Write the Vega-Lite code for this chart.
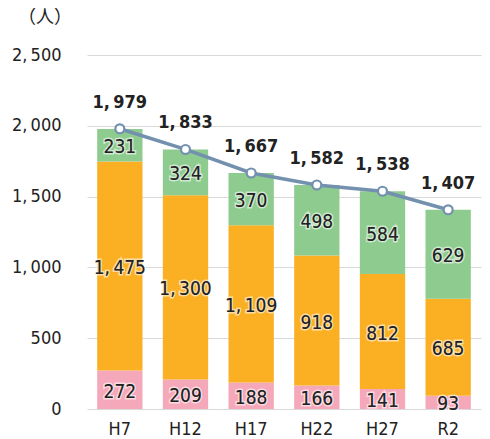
{
  "$schema": "https://vega.github.io/schema/vega-lite/v6.json",
  "autosize": {"type": "none"},
  "width": 394,
  "height": 354,
  "padding": {"left": 87, "top": 55, "right": 9, "bottom": 30},
  "background": "white",
  "config": {
    "view": {"stroke": null},
    "font": "'DejaVu Sans Condensed', 'Noto Sans', sans-serif"
  },
  "datasets": {
    "seg": [
      {"year": "H7", "cat": "young", "ord": 1, "value": 272},
      {"year": "H7", "cat": "work", "ord": 2, "value": 1475},
      {"year": "H7", "cat": "old", "ord": 3, "value": 231},
      {"year": "H12", "cat": "young", "ord": 1, "value": 209},
      {"year": "H12", "cat": "work", "ord": 2, "value": 1300},
      {"year": "H12", "cat": "old", "ord": 3, "value": 324},
      {"year": "H17", "cat": "young", "ord": 1, "value": 188},
      {"year": "H17", "cat": "work", "ord": 2, "value": 1109},
      {"year": "H17", "cat": "old", "ord": 3, "value": 370},
      {"year": "H22", "cat": "young", "ord": 1, "value": 166},
      {"year": "H22", "cat": "work", "ord": 2, "value": 918},
      {"year": "H22", "cat": "old", "ord": 3, "value": 498},
      {"year": "H27", "cat": "young", "ord": 1, "value": 141},
      {"year": "H27", "cat": "work", "ord": 2, "value": 812},
      {"year": "H27", "cat": "old", "ord": 3, "value": 584},
      {"year": "R2", "cat": "young", "ord": 1, "value": 93},
      {"year": "R2", "cat": "work", "ord": 2, "value": 685},
      {"year": "R2", "cat": "old", "ord": 3, "value": 629}
    ],
    "tot": [
      {"year": "H7", "total": 1979},
      {"year": "H12", "total": 1833},
      {"year": "H17", "total": 1667},
      {"year": "H22", "total": 1582},
      {"year": "H27", "total": 1538},
      {"year": "R2", "total": 1407}
    ]
  },
  "layer": [
    {
      "data": {"name": "seg"},
      "transform": [
        {"stack": "value", "groupby": ["year"], "sort": [{"field": "ord"}], "as": ["v0", "v1"]},
        {"calculate": "(datum.v0 + datum.v1) / 2", "as": "mid"},
        {"calculate": "replace(format(datum.value, ','), ',', ',\u2009')", "as": "lab"}
      ],
      "layer": [
        {
          "mark": {"type": "bar"},
          "encoding": {
            "x": {"field": "year", "type": "nominal", "sort": ["H7", "H12", "H17", "H22", "H27", "R2"],
                  "scale": {"paddingInner": 0.31, "paddingOuter": 0.155},
                  "axis": {"title": null, "labelAngle": 0, "ticks": false, "domain": false, "labelFontSize": 18, "labelColor": "#222", "labelPadding": 11}},
            "y": {"field": "v0", "type": "quantitative", "scale": {"domain": [0, 2500], "nice": false},
                  "axis": {"title": null, "values": [0, 500, 1000, 1500, 2000, 2500], "ticks": false, "domain": false,
                           "gridColor": "#d9d9d9", "labelFontSize": 18, "labelColor": "#222", "labelPadding": 26,
                           "labelExpr": "replace(format(datum.value, ','), ',', ',\u2009')"}},
            "y2": {"field": "v1"},
            "color": {"field": "cat", "type": "nominal", "legend": null,
                      "scale": {"domain": ["young", "work", "old"], "range": ["#F5A8B9", "#FAB022", "#8DCB8E"]}}
          }
        },
        {
          "mark": {"type": "text", "fontSize": 19, "color": "#222", "stroke": "white", "strokeWidth": 3, "strokeOpacity": 0.6, "baseline": "middle", "dy": 2},
          "encoding": {
            "x": {"field": "year", "type": "nominal", "sort": ["H7", "H12", "H17", "H22", "H27", "R2"]},
            "y": {"field": "mid", "type": "quantitative"},
            "text": {"field": "lab"}
          }
        },
        {
          "mark": {"type": "text", "fontSize": 19, "color": "#222", "baseline": "middle", "dy": 2},
          "encoding": {
            "x": {"field": "year", "type": "nominal", "sort": ["H7", "H12", "H17", "H22", "H27", "R2"]},
            "y": {"field": "mid", "type": "quantitative"},
            "text": {"field": "lab"}
          }
        }
      ]
    },
    {
      "data": {"name": "tot"},
      "transform": [
        {"calculate": "replace(format(datum.total, ','), ',', ',\u2009')", "as": "lab"}
      ],
      "encoding": {
        "x": {"field": "year", "type": "nominal", "sort": ["H7", "H12", "H17", "H22", "H27", "R2"]},
        "y": {"field": "total", "type": "quantitative"}
      },
      "layer": [
        {"mark": {"type": "line", "color": "#7391AF", "strokeWidth": 3.5}},
        {"mark": {"type": "point", "filled": true, "fill": "white", "stroke": "#7391AF", "strokeWidth": 2.2, "size": 80, "opacity": 1}},
        {"mark": {"type": "text", "fontSize": 18, "fontWeight": "bold", "color": "#222", "baseline": "middle", "dy": -26},
         "encoding": {"text": {"field": "lab"}}}
      ]
    },
    {
      "data": {"values": [{"t": "（人）"}]},
      "mark": {"type": "text", "fontSize": 18, "color": "#222", "align": "center", "baseline": "middle", "x": -42, "y": -37, "font": "Noto Sans CJK JP"},
      "encoding": {"text": {"field": "t"}}
    }
  ]
}
